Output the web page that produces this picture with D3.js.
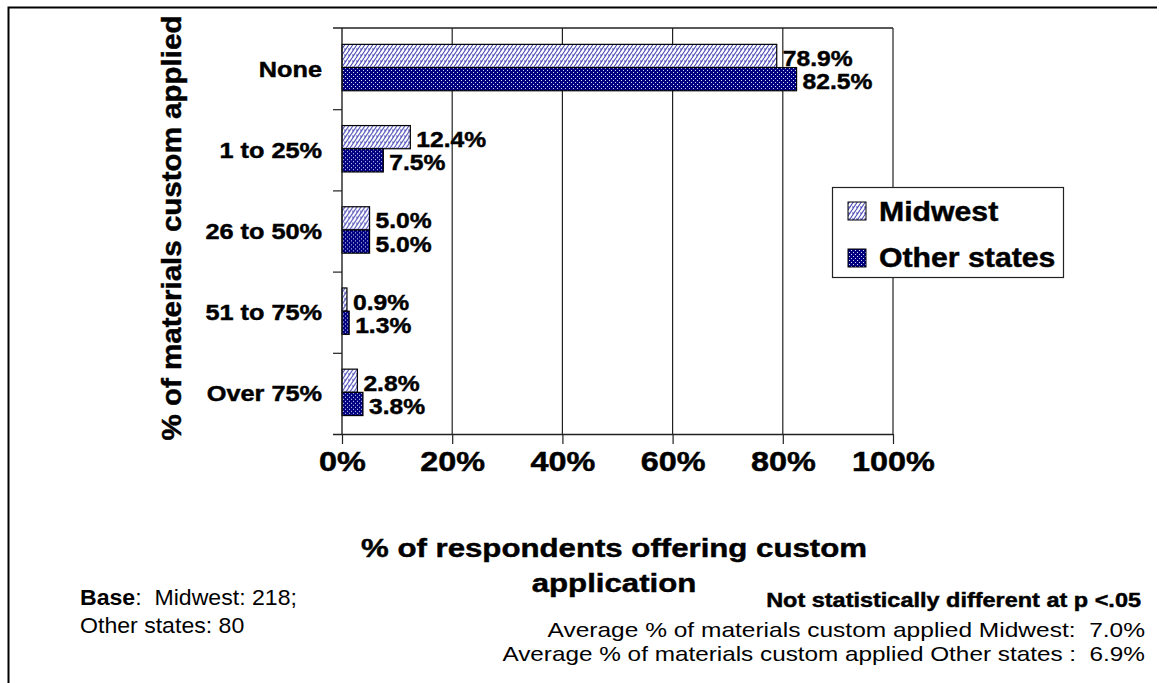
<!DOCTYPE html>
<html>
<head>
<meta charset="utf-8">
<script src="https://cdn.jsdelivr.net/npm/d3@7"></script>
<style>
  html, body { margin: 0; padding: 0; background: #fff; }
  svg { display: block; font-family: "Liberation Sans", Arial, sans-serif; }
  .heavy { stroke: #000; stroke-width: 0.45px; }
</style>
</head>
<body>
<svg id="chart" width="1159" height="683"></svg>
<script>
// Share of materials custom applied, by region
const categories = ["None", "1 to 25%", "26 to 50%", "51 to 75%", "Over 75%"];
const seriesNames = ["Midwest", "Other states"];
const midwest = [78.9, 12.4, 5.0, 0.9, 2.8];
const otherStates = [82.5, 7.5, 5.0, 1.3, 3.8];
const xTicks = [0, 20, 40, 60, 80, 100];

const yTitle = "% of materials custom applied";
const xTitleLines = ["% of respondents offering custom", "application"];
const sigNote = "Not statistically different at p <.05";
const avgNotes = [
  "Average % of materials custom applied Midwest:  7.0%",
  "Average % of materials custom applied Other states :  6.9%"
];
const baseLines = [["Base", ":  Midwest: 218;"], ["", "Other states: 80"]];

const seriesValues = [midwest, otherStates];
const rows = categories.map((c, i) => ({
  category: c,
  values: seriesNames.map((s, k) => ({ series: s, value: seriesValues[k][i] }))
}));

const svg = d3.select("#chart");
const W = 1159, H = 683;

// fill patterns: light hatch for Midwest, dotted navy for other states
const defs = svg.append("defs");
const hatch = defs.append("pattern").attr("id", "pat-midwest")
  .attr("patternUnits", "userSpaceOnUse").attr("width", 4).attr("height", 6);
hatch.append("rect").attr("width", 4).attr("height", 6).attr("fill", "#fff");
hatch.append("path").attr("d", "M0,6 L4,0 M-1,1 L1,-1 M3,7 L5,5 M0,3 L1.5,3")
  .attr("stroke", "#4a4ab8").attr("stroke-width", 1.1).attr("fill", "none");

const dots = defs.append("pattern").attr("id", "pat-other")
  .attr("patternUnits", "userSpaceOnUse").attr("width", 4).attr("height", 4);
dots.append("rect").attr("width", 4).attr("height", 4).attr("fill", "#000080");
dots.append("rect").attr("x", 1).attr("y", 0).attr("width", 1).attr("height", 1).attr("fill", "#d8d8ff");
dots.append("rect").attr("x", 3).attr("y", 2).attr("width", 1).attr("height", 1).attr("fill", "#d8d8ff");

const fills = { "Midwest": "url(#pat-midwest)", "Other states": "url(#pat-other)" };

// outer frame (left and top edges)
svg.append("path").attr("d", `M8.5,${H} V7.5 H1157`)
  .attr("fill", "none").attr("stroke", "#000").attr("stroke-width", 2);

// plot area
const plot = { left: 342, right: 893, top: 28, bottom: 434 };
const x = d3.scaleLinear().domain([0, 100]).range([plot.left, plot.right]);
const y = d3.scaleBand().domain(categories).range([plot.top, plot.bottom]).padding(0);
const y1 = d3.scaleBand().domain(seriesNames).range([0, y.bandwidth()])
  .paddingInner(0).paddingOuter(0.75).align(0.47);

// helpers: text stretched horizontally by a factor or to a target width
function place(t, sx) {
  const tx = +t.attr("data-x"), ty = +t.attr("data-y");
  const rot = t.attr("data-rot");
  t.attr("transform", `translate(${tx},${ty})${rot ? ` rotate(${rot})` : ""} scale(${sx},1)`);
}
function stretchText(sel, sx) {
  sel.each(function () { place(d3.select(this), sx); });
}
function fitText(sel, width) {
  sel.each(function () { place(d3.select(this), width / this.getComputedTextLength()); });
}

// vertical gridlines
svg.append("g").selectAll("line").data(xTicks.filter(d => d > 0)).join("line")
  .attr("x1", d => x(d)).attr("x2", d => x(d))
  .attr("y1", plot.top).attr("y2", plot.bottom)
  .attr("stroke", "#222").attr("stroke-width", 1.2);

// top edge of plot area
svg.append("line").attr("x1", plot.left - 9).attr("x2", plot.right)
  .attr("y1", plot.top).attr("y2", plot.top)
  .attr("stroke", "#222").attr("stroke-width", 1.4);

// bars
const groups = svg.append("g").selectAll("g").data(rows).join("g")
  .attr("transform", d => `translate(0,${y(d.category)})`);

groups.selectAll("rect").data(d => d.values).join("rect")
  .attr("x", x(0))
  .attr("y", d => y1(d.series))
  .attr("width", d => x(d.value) - x(0))
  .attr("height", y1.bandwidth())
  .attr("fill", d => fills[d.series])
  .attr("stroke", "#000").attr("stroke-width", 1.2);

// value labels
groups.selectAll("text").data(d => d.values).join("text")
  .attr("class", "heavy")
  .attr("data-x", d => x(d.value) + 6)
  .attr("data-y", d => y1(d.series) + y1.bandwidth() - 1.5)
  .attr("font-size", 22).attr("font-weight", "bold").attr("fill", "#000")
  .text(d => d.value.toFixed(1) + "%")
  .call(stretchText, 1.12);

// x axis
const xAxis = svg.append("g").attr("transform", `translate(0,${plot.bottom})`)
  .call(d3.axisBottom(x).tickValues(xTicks).tickFormat(d => d + "%").tickSize(10).tickPadding(8))
  .call(g => g.select(".domain").attr("d", `M${plot.left - 9},0.5H${plot.right}`).attr("stroke", "#222").attr("stroke-width", 1.4))
  .call(g => g.selectAll(".tick line").attr("stroke", "#222").attr("stroke-width", 1.2));
xAxis.selectAll(".tick text")
  .attr("class", "heavy")
  .attr("font-family", "Liberation Sans, Arial, sans-serif")
  .attr("font-size", 27).attr("font-weight", "bold").attr("fill", "#000")
  .attr("transform", "scale(1.2,1)");

// y axis: line, boundary ticks, category labels
const yAxis = svg.append("g");
yAxis.append("line").attr("x1", plot.left).attr("x2", plot.left)
  .attr("y1", plot.top).attr("y2", plot.bottom)
  .attr("stroke", "#222").attr("stroke-width", 1.4);
yAxis.selectAll("line.tick").data(categories.slice(1)).join("line").attr("class", "tick")
  .attr("x1", plot.left - 9).attr("x2", plot.left)
  .attr("y1", d => y(d) + 0.5).attr("y2", d => y(d) + 0.5)
  .attr("stroke", "#222").attr("stroke-width", 1.2);
yAxis.selectAll("text").data(categories).join("text")
  .attr("class", "heavy")
  .attr("data-x", 322).attr("data-y", d => y(d) + y.bandwidth() / 2 + 8)
  .attr("text-anchor", "end")
  .attr("font-size", 22).attr("font-weight", "bold").attr("fill", "#000")
  .text(d => d)
  .call(stretchText, 1.15);

// axis titles
svg.append("text")
  .attr("class", "heavy")
  .attr("data-x", 181).attr("data-y", 228).attr("data-rot", -90)
  .attr("text-anchor", "middle")
  .attr("font-size", 27).attr("font-weight", "bold").attr("fill", "#000")
  .text(yTitle)
  .call(fitText, 425);

svg.append("g").selectAll("text").data(xTitleLines).join("text")
  .attr("class", "heavy")
  .attr("data-x", 614).attr("data-y", (d, i) => 557 + i * 35)
  .attr("text-anchor", "middle")
  .attr("font-size", 26).attr("font-weight", "bold").attr("fill", "#000")
  .text(d => d)
  .call(stretchText, 1.2);

// legend
const legend = svg.append("g");
legend.append("rect").attr("x", 832.5).attr("y", 187.5).attr("width", 231).attr("height", 90)
  .attr("fill", "#fff").attr("stroke", "#222").attr("stroke-width", 1.2);
const li = legend.selectAll("g").data(seriesNames).join("g");
li.append("rect")
  .attr("x", 848).attr("y", (d, i) => 202 + i * 47)
  .attr("width", 18).attr("height", 18)
  .attr("fill", d => fills[d]).attr("stroke", "#000").attr("stroke-width", 1);
li.append("text")
  .attr("class", "heavy")
  .attr("data-x", 879).attr("data-y", (d, i) => 221 + i * 46)
  .attr("font-size", 27).attr("font-weight", "bold").attr("fill", "#000")
  .text(d => d)
  .call(stretchText, 1.12);

// notes
const base = svg.append("g").selectAll("text").data(baseLines).join("text")
  .attr("data-x", 80).attr("data-y", (d, i) => 605 + i * 28)
  .attr("font-size", 22).attr("fill", "#000");
base.append("tspan").attr("font-weight", "bold").text(d => d[0]);
base.append("tspan").style("white-space", "pre").text(d => d[1]);
base.call(stretchText, 1.05);

svg.append("text")
  .attr("class", "heavy")
  .attr("data-x", 1141).attr("data-y", 607)
  .attr("text-anchor", "end")
  .attr("font-size", 20).attr("font-weight", "bold").attr("fill", "#000")
  .text(sigNote)
  .call(fitText, 375);

svg.append("g").selectAll("text").data(avgNotes).join("text")
  .attr("data-x", 1145).attr("data-y", (d, i) => 637 + i * 24)
  .attr("text-anchor", "end")
  .style("white-space", "pre")
  .attr("font-size", 20).attr("fill", "#000")
  .text(d => d)
  .each(function (d, i) { d3.select(this).call(fitText, i === 0 ? 598 : 643); });
</script>
</body>
</html>
